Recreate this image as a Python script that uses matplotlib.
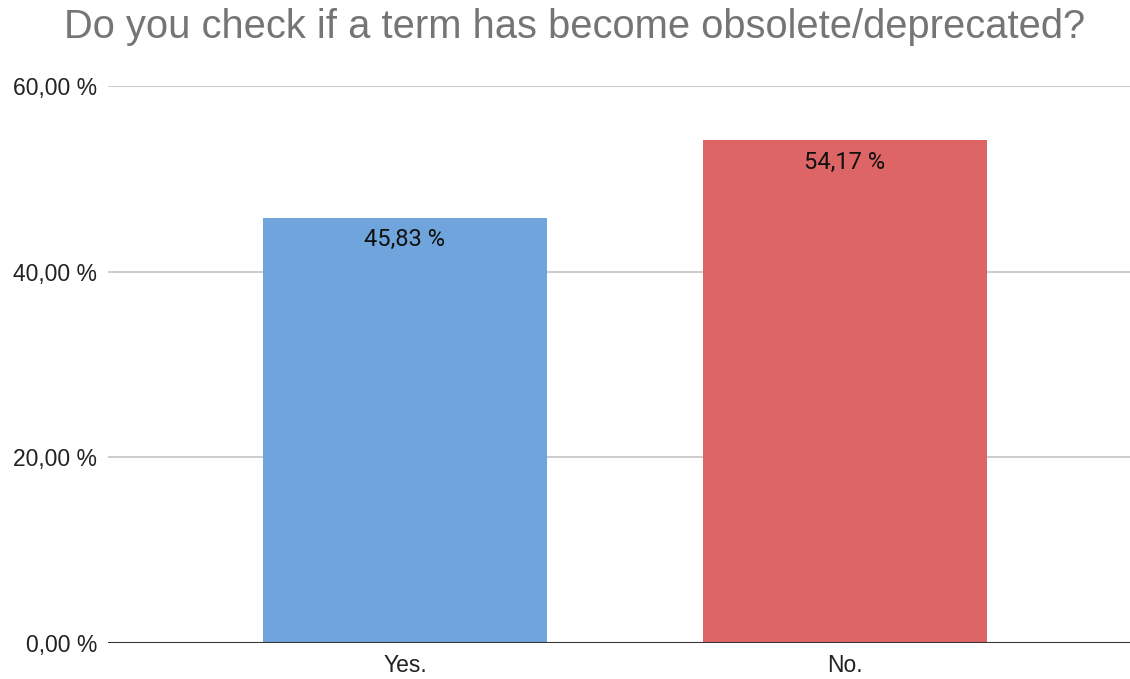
import matplotlib
matplotlib.use("Agg")
import matplotlib.pyplot as plt

categories = ["Yes.", "No."]
values = [45.83, 54.17]
colors = ["#6fa5dc", "#dd6565"]
yticks = [0, 20, 40, 60]
ytick_labels = ["0,00 %", "20,00 %", "40,00 %", "60,00 %"]
title = "Do you check if a term has become obsolete/deprecated?"

fig = plt.figure(figsize=(11.3, 6.79), dpi=100)
ax = fig.add_axes([108/1130, 1-643/679, 1-108/1130, (643-86)/679])

x = list(range(len(categories)))
ax.bar(x, values, width=0.645, color=colors, zorder=3)
for xi, v in zip(x, values):
    ax.annotate(f"{v:.2f} %".replace(".", ","), (xi, v), xytext=(0, -22),
                textcoords="offset pixels", ha="center", va="center",
                fontsize=17, family=["Roboto", "DejaVu Sans"], color="#111111", zorder=4)

ax.set_xlim(-0.675, 1.648)
ax.set_ylim(0, 60)
ax.set_yticks(yticks)
ax.set_yticklabels(ytick_labels, fontsize=16.5, family="Liberation Sans", color="#222222")
ax.set_xticks(x)
ax.set_xticklabels(categories, fontsize=16.5, family="Liberation Sans", color="#222222")
ax.tick_params(axis="y", length=0, pad=8)
ax.tick_params(axis="x", length=0, pad=8)
for yt in yticks[1:]:
    ax.axhline(yt, color="#cccccc", lw=1.4, zorder=1)
ax.axhline(0, color="#333333", lw=1.5, zorder=5)
for s in ax.spines.values():
    s.set_visible(False)

fig.text(575/1130, 1-27/679, title, ha="center", va="center", fontsize=28.7,
         family="Liberation Sans", color="#757575")

fig.savefig("out.png", dpi=100)
